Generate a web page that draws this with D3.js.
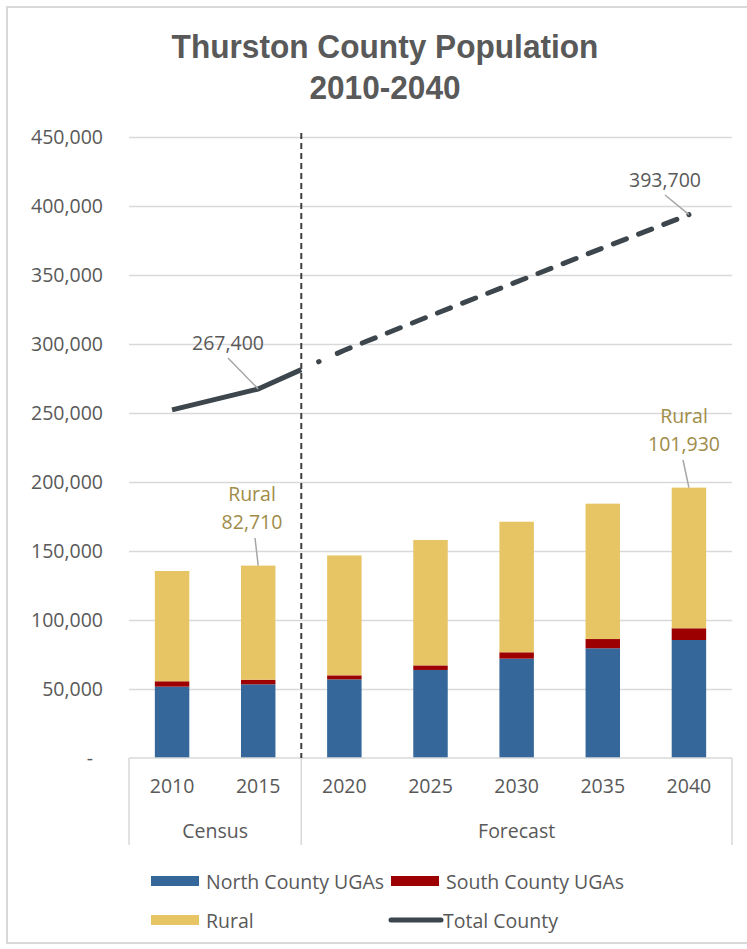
<!DOCTYPE html>
<html lang="en">
<head>
<meta charset="UTF-8" />
<title>Thurston County Population 2010-2040</title>
<script src="https://d3js.org/d3.v7.min.js"></script>
<style>
    body { margin: 0; background: #fff; }
    text { font-family: "Open Sans", "Noto Sans", sans-serif; fill: #595959; }
    .grid line { stroke: #d9d9d9; stroke-width: 1.5; }
    .grid .domain { display: none; }
</style>
</head>
<body>
<svg width="747" height="949"></svg>
<script>
    // data
    const years = ["2010", "2015", "2020", "2025", "2030", "2035", "2040"];
    const northUGAs = [51700, 53400, 57000, 63800, 72000, 79500, 85500];
    const southUGAs = [3900, 3300, 2900, 3300, 4600, 6700, 8500];
    const rural = [79900, 82710, 86900, 90900, 94600, 98100, 101930];
    const totalCounty = [252300, 267400, 295500, 320500, 345000, 369600, 393700];
    const groupNames = ["Census", "Forecast"];
    const groupSizes = [2, 5];
    const yTicks = [0, 50000, 100000, 150000, 200000, 250000, 300000, 350000, 400000, 450000];

    const seriesKeys = ["North County UGAs", "South County UGAs", "Rural"];
    const seriesColors = ["#35679a", "#9c0000", "#e7c565"];
    const lineColor = "#3c464c";

    const svg = d3.select("svg");
    const plotLeft = 129, plotRight = 732, plotTop = 137, plotBottom = 758;

    const x = d3.scaleBand()
        .domain(years)
        .range([plotLeft, plotRight])
        .paddingInner(0.6)
        .paddingOuter(0.3);

    const y = d3.scaleLinear()
        .domain([0, 450000])
        .range([plotBottom, plotTop]);

    const cx = d => x(d) + x.bandwidth() / 2;

    // chart frame
    svg.append("rect")
        .attr("x", 7).attr("y", 7)
        .attr("width", 780).attr("height", 936)
        .attr("fill", "none")
        .attr("stroke", "#d9d9d9")
        .attr("stroke-width", 2);

    // title (condensed bold look: squeeze horizontally to the width in the picture)
    const titleCx = 385;
    const title = svg.append("text")
        .attr("text-anchor", "middle")
        .style("font-family", "'Liberation Sans Narrow', 'Liberation Sans', sans-serif")
        .style("font-weight", "bold")
        .style("font-size", "33px");
    title.append("tspan").attr("x", 0).attr("y", 58).text("Thurston County Population");
    title.append("tspan").attr("x", 0).attr("y", 99).text("2010-2040");
    const w0 = title.select("tspan").node().getComputedTextLength();
    title.attr("transform", `translate(${titleCx},0) scale(${427 / w0},1)`);

    // gridlines + y labels
    const yAxis = svg.append("g")
        .attr("class", "grid")
        .attr("transform", `translate(${plotLeft},0)`)
        .call(d3.axisLeft(y)
            .tickValues(yTicks)
            .tickSize(-(plotRight - plotLeft))
            .tickPadding(26)
            .tickFormat(d => d === 0 ? "-" : d3.format(",")(d)));
    yAxis.selectAll("text")
        .style("font-size", "19.5px")
        .attr("font-family", null)
        .attr("dx", d => d === 0 ? -10 : 0);
    yAxis.selectAll(".tick")
        .filter(d => d === 0)
        .select("line").remove();

    // stacked bars
    const table = years.map((yr, i) => ({
        year: yr,
        "North County UGAs": northUGAs[i],
        "South County UGAs": southUGAs[i],
        "Rural": rural[i]
    }));
    const stacked = d3.stack().keys(seriesKeys)(table);

    svg.append("g")
        .selectAll("g")
        .data(stacked)
        .join("g")
        .attr("fill", (d, i) => seriesColors[i])
        .selectAll("rect")
        .data(d => d)
        .join("rect")
        .attr("x", d => x(d.data.year))
        .attr("width", x.bandwidth())
        .attr("y", d => y(d[1]))
        .attr("height", d => y(d[0]) - y(d[1]));

    // category axis box
    const divX = x("2020") - x.step() * x.paddingInner() / 2;
    const axisG = svg.append("g").attr("stroke", "#d9d9d9").attr("stroke-width", 1.5);
    axisG.append("line").attr("x1", plotLeft).attr("x2", plotRight).attr("y1", plotBottom).attr("y2", plotBottom);
    [plotLeft, divX, plotRight].forEach(xx => {
        axisG.append("line").attr("x1", xx).attr("x2", xx).attr("y1", plotBottom).attr("y2", 845);
    });

    svg.append("g")
        .selectAll("text")
        .data(years)
        .join("text")
        .attr("x", d => cx(d))
        .attr("y", 785)
        .attr("text-anchor", "middle")
        .attr("dominant-baseline", "central")
        .style("font-size", "19.5px")
        .text(d => d);

    let start = 0;
    const groupCenters = groupSizes.map(n => {
        const a = years[start], b = years[start + n - 1];
        const x0 = start === 0 ? plotLeft : x(a) - x.step() * x.paddingInner() / 2;
        const x1 = start + n === years.length ? plotRight : x(b) + x.bandwidth() + x.step() * x.paddingInner() / 2;
        start += n;
        return (x0 + x1) / 2;
    });
    svg.append("g")
        .selectAll("text")
        .data(groupNames)
        .join("text")
        .attr("x", (d, i) => groupCenters[i])
        .attr("y", 830)
        .attr("text-anchor", "middle")
        .attr("dominant-baseline", "central")
        .style("font-size", "19.5px")
        .text(d => d);

    // census / forecast divider
    svg.append("line")
        .attr("x1", divX).attr("x2", divX)
        .attr("y1", 133).attr("y2", plotBottom)
        .attr("stroke", "#3f3f3f")
        .attr("stroke-width", 2)
        .attr("stroke-dasharray", "6,4");

    // total county line: solid for census, dashed for forecast
    const pts = years.map((yr, i) => [cx(yr), y(totalCounty[i])]);
    const t = (divX - pts[1][0]) / (pts[2][0] - pts[1][0]);
    const cross = [divX, pts[1][1] + t * (pts[2][1] - pts[1][1])];
    const line = d3.line();

    svg.append("path")
        .attr("d", line([pts[0], pts[1], cross]))
        .attr("fill", "none")
        .attr("stroke", lineColor)
        .attr("stroke-width", 5)
        .attr("stroke-linejoin", "round");

    // dot, then long dashes (Excel "long dash" starting mid-pattern)
    const dashes = [0.5, 20];
    for (let i = 0; i < 20; i++) dashes.push(14, 13);
    dashes.push(14, 600);
    svg.append("path")
        .attr("d", line([cross].concat(pts.slice(2))))
        .attr("fill", "none")
        .attr("stroke", lineColor)
        .attr("stroke-width", 5)
        .attr("stroke-linecap", "round")
        .attr("stroke-dasharray", dashes.join(","))
        .attr("stroke-dashoffset", -19);

    // data labels with leader lines
    const callouts = [
        { px: cx("2015"), py: y(totalCounty[1]), tx: 228, ty: 342, lx: 228, ly: 358, lines: ["267,400"], color: "#595959" },
        { px: cx("2040"), py: y(totalCounty[6]), tx: 665, ty: 179, lx: 665, ly: 195, lines: ["393,700"], color: "#595959" },
        { px: cx("2015"), py: y(northUGAs[1] + southUGAs[1] + rural[1]), tx: 252, ty: 493, lx: 255, ly: 538, lines: ["Rural", "82,710"], color: "#a08c48" },
        { px: cx("2040"), py: y(northUGAs[6] + southUGAs[6] + rural[6]), tx: 684, ty: 415, lx: 683, ly: 460, lines: ["Rural", "101,930"], color: "#a08c48" }
    ];
    callouts.forEach(c => {
        svg.append("line")
            .attr("x1", c.lx).attr("y1", c.ly)
            .attr("x2", c.px).attr("y2", c.py)
            .attr("stroke", "#a6a6a6")
            .attr("stroke-width", 1.5);
        const tx = svg.append("text")
            .attr("text-anchor", "middle")
            .style("font-size", "19.5px")
            .style("fill", c.color);
        c.lines.forEach((s, i) => {
            tx.append("tspan")
                .attr("x", c.tx)
                .attr("y", c.ty + i * 28)
                .attr("dominant-baseline", "central")
                .text(s);
        });
    });

    // legend
    const legend = [
        { key: seriesKeys[0], color: seriesColors[0], type: "rect", x: 151, y: 881 },
        { key: seriesKeys[1], color: seriesColors[1], type: "rect", x: 391, y: 881 },
        { key: seriesKeys[2], color: seriesColors[2], type: "rect", x: 151, y: 920 },
        { key: "Total County", color: lineColor, type: "line", x: 391, y: 920 }
    ];
    const lg = svg.append("g");
    legend.forEach(l => {
        if (l.type === "rect") {
            lg.append("rect")
                .attr("x", l.x).attr("y", l.y - 5)
                .attr("width", 48).attr("height", 10)
                .attr("fill", l.color);
        } else {
            lg.append("line")
                .attr("x1", l.x).attr("x2", l.x + 50)
                .attr("y1", l.y).attr("y2", l.y)
                .attr("stroke", l.color)
                .attr("stroke-width", 5)
                .attr("stroke-linecap", "round");
        }
        lg.append("text")
            .attr("x", l.type === "rect" ? l.x + 55 : l.x + 52)
            .attr("y", l.y)
            .attr("dominant-baseline", "central")
            .style("font-size", "19.5px")
            .text(l.key);
    });
</script>
</body>
</html>
